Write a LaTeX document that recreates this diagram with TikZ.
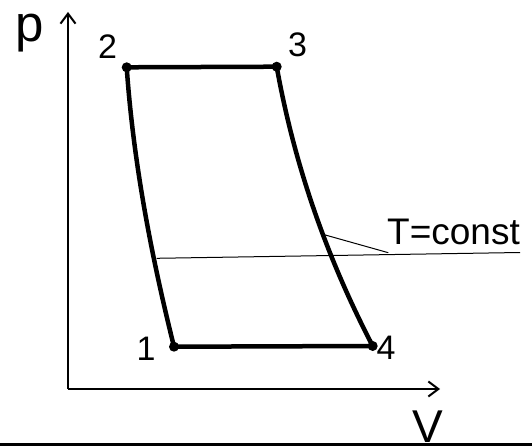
\documentclass[tikz,border=0pt]{standalone}
\usepackage{fontspec}
\setmainfont{Liberation Sans}
\usetikzlibrary{arrows.meta}
\begin{document}
\begin{tikzpicture}[x=1pt, y=-1pt, >={Straight Barb[length=10pt,width=15pt]},
	axis/.style={line width=2pt},
	cycle/.style={line width=4.5pt, line cap=round, line join=round},
	thinline/.style={line width=1pt},
	pt/.style={circle, fill, inner sep=0pt, minimum size=10pt},
	num/.style={inner sep=0pt, font=\fontsize{34}{34}\selectfont}]
	\useasboundingbox (0,0) rectangle (532,446);
	%\draw[dotted] (0,0) grid[step=50] (532,446);
	\coordinate (o) at (68,389);
	\coordinate (ytop) at (68,12);
	\coordinate (xend) at (440,389);
	\draw [axis, ->] (o) -- (ytop);
	\draw [axis, ->] (o) -- (xend);
	\fill (0,443) rectangle (532,446);
	\node [pt] (p1) at (174,346.7) {};
	\node [pt] (p2) at (126.7,67.3) {};
	\node [pt] (p3) at (276.7,66.7) {};
	\node [pt] (p4) at (372.7,346) {};
	\draw [cycle] (p2.center) -- (p3.center)
		.. controls (293.4,159.7) and (324.3,253) .. coordinate [pos=0.6] (lead) (p4.center)
		-- (p1.center)
		.. controls (150.75,253.7) and (133.2,160.3) .. (p2.center);
	\coordinate (tl) at (156.7,258.3);
	\coordinate (tr) at (520,252.5);
	\coordinate (tk) at (388.3,252.7);
	\draw [thinline] (tl) -- (tr);
	\draw [thinline] (lead) -- (tk);
	\node [num] (l1) at (146,348.5) {1};
	\node [num] (l2) at (107.5,46.5) {2};
	\node [num] (l3) at (297.5,44.5) {3};
	\node [num] (l4) at (386,347.5) {4};
	\node [inner sep=0pt, font=\fontsize{37}{37}\selectfont] (tc) at (453.5,231.5) {T=const};
	\node [inner sep=0pt, font=\fontsize{51}{51}\selectfont] (lp) at (30,33) {p};
	\node [inner sep=0pt, font=\fontsize{46}{46}\selectfont] (lv) at (428,426.5) {V};
\end{tikzpicture}
\end{document}
